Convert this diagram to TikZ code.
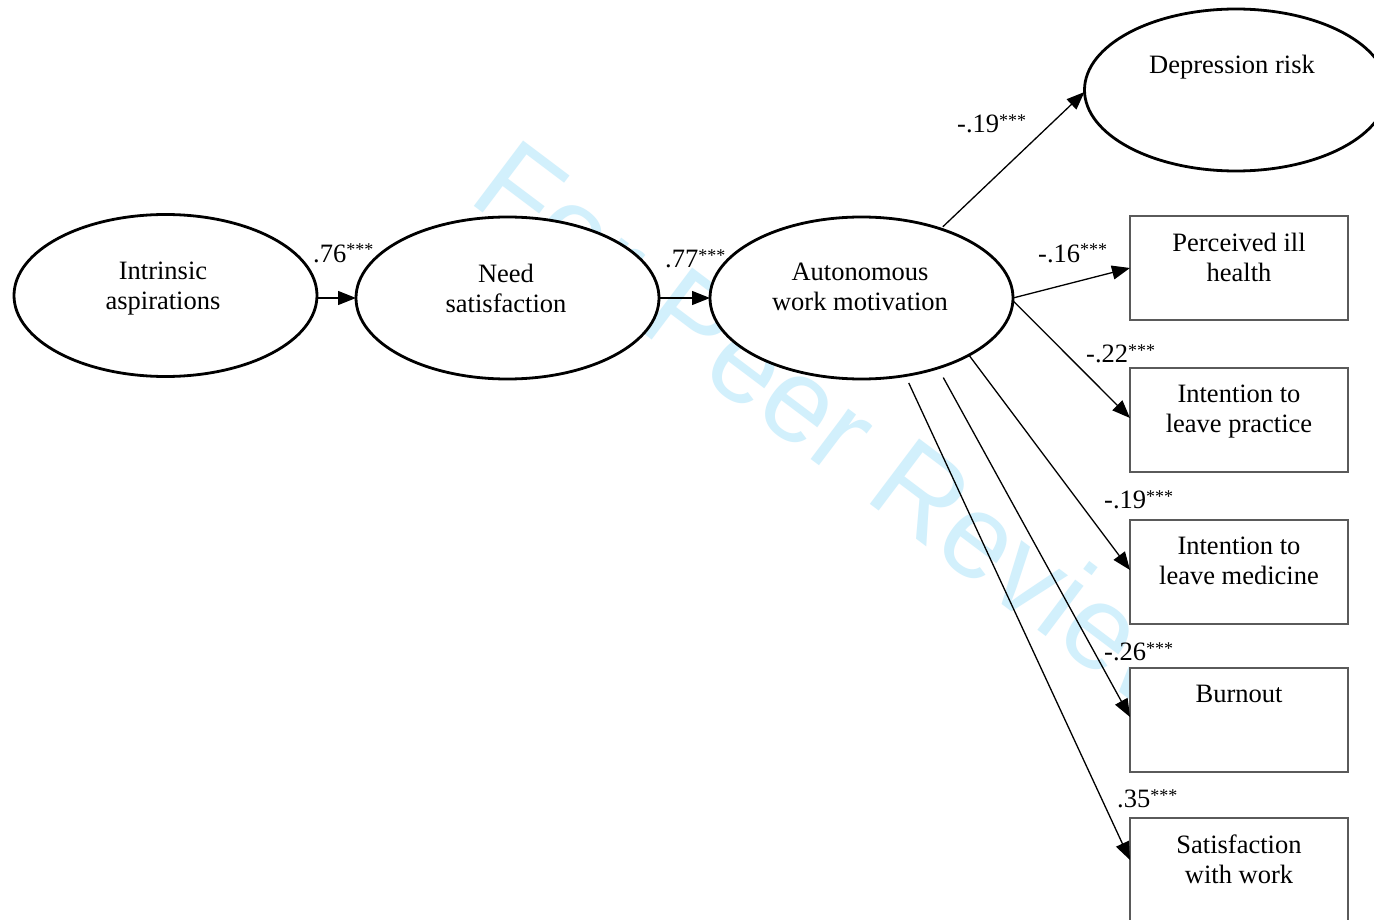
\documentclass[tikz,border=0pt]{standalone}
\usepackage{fontspec}
\setmainfont{Liberation Serif}
\newfontfamily\wmfont[Kerning=Off]{Liberation Sans}
\usetikzlibrary{shapes.geometric,arrows.meta}
\definecolor{wmblue}{RGB}{210,240,252}
\definecolor{boxgray}{RGB}{90,90,90}
\newcommand{\sig}{\raisebox{6pt}{\fontsize{18}{18}\selectfont ***}}
\begin{document}
\begin{tikzpicture}[x=1pt,y=-1pt,
  lat/.style={ellipse,draw,line width=2.8pt,fill=white,minimum width=303pt,minimum height=162pt,inner sep=0pt,outer sep=0pt},
  obs/.style={rectangle,draw=boxgray,line width=1.2pt,fill=white,minimum width=218pt,minimum height=104pt,inner sep=0pt,outer sep=0pt},
  txt/.style={anchor=north,inner sep=0pt,align=center,font=\fontsize{26.5}{30}\selectfont},
  coef/.style={anchor=base west,inner sep=0pt,font=\fontsize{26.5}{30}\selectfont},
  pth/.style={line width=1.3pt,-{Triangle[length=18pt,width=14pt]}},
  wmtext/.style={inner sep=0pt,text=wmblue,font=\wmfont\fontsize{119}{119}\selectfont}
]
\useasboundingbox (0,0) rectangle (1374,920);
\clip (0,0) rectangle (1374,920);
\fill[white] (0,0) rectangle (1374,920);
% watermark
\begin{scope}
\clip (0,0) rectangle (1128,920);
\node[wmtext,rotate=-37,anchor=base west] (wm) at (466,200) {For Peer Review};
\end{scope}
% latent variables
\node[lat] (intr) at (165.5,295.5) {};
\node[lat] (need) at (507.5,298) {};
\node[lat] (auto) at (861.5,298) {};
\node[lat] (dep) at (1236,90) {};
% observed variables
\node[obs] (perc) at (1239,268) {};
\node[obs] (prac) at (1239,420) {};
\node[obs] (med) at (1239,572) {};
\node[obs] (burn) at (1239,720) {};
\node[obs] (sat) at (1239,870) {};
% texts
\node[txt] (intrT) at (163,261.5) {Intrinsic\\aspirations};
\node[txt] (needT) at (506,264) {Need\\satisfaction};
\node[txt] (autoT) at (860,263) {Autonomous\\work motivation};
\node[txt] (depT) at (1232,55) {Depression risk};
\node[txt] (percT) at (1239,233) {Perceived ill\\health};
\node[txt] (pracT) at (1239,385) {Intention to\\leave practice};
\node[txt] (medT) at (1239,537) {Intention to\\leave medicine};
\node[txt] (burnT) at (1239,685) {Burnout};
\node[txt] (satT) at (1239,835) {Satisfaction\\with work};
% connectors
\draw[pth] (intr.east |- need.west) -- (need.west);
\draw[pth] (need.east) -- (auto.west);
\draw[pth] ([yshift=3pt]auto.40) -- ([yshift=-2pt]dep.west);
\draw[pth] (auto.east) -- (perc.west);
\draw[pth] (auto.-1.5) -- ([yshift=2pt]prac.west);
\draw[pth] (auto.-28.6) -- ([yshift=2pt]med.west);
\draw[pth] ([xshift=8.4pt,yshift=-8.7pt]auto.-44) -- ([yshift=3pt]burn.west);
\draw[pth] ([xshift=4.2pt,yshift=-7.3pt]auto.-61.6) -- ([yshift=10pt]sat.west);
% coefficients
\node[coef] (c1) at (313,262) {.76\sig};
\node[coef] (c2) at (665,268) {.77\sig};
\node[coef] (c3) at (957,133) {-.19\sig};
\node[coef] (c4) at (1038,262) {-.16\sig};
\node[coef] (c5) at (1086,362) {-.22\sig};
\node[coef] (c6) at (1104,508) {-.19\sig};
\node[coef] (c7) at (1104,660) {-.26\sig};
\node[coef] (c8) at (1117,807) {.35\sig};
\end{tikzpicture}
\end{document}
